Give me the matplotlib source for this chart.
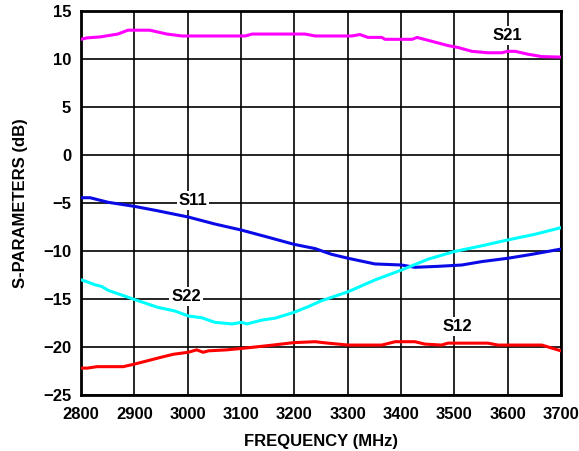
import matplotlib
matplotlib.use("Agg")
import matplotlib.pyplot as plt

plt.rcParams['font.family'] = ['Liberation Sans', 'DejaVu Sans']
plt.rcParams['font.weight'] = 'bold'

# S21 (gain)
s21_f = [2800, 2811, 2836, 2869, 2888, 2929, 2961, 2989, 3050, 3108, 3121, 3180, 3220, 3239,
         3308, 3323, 3338, 3364, 3370, 3421, 3430, 3454, 3488, 3507, 3533, 3563, 3589, 3600,
         3614, 3638, 3664, 3700]
s21_db = [12.05, 12.2, 12.3, 12.6, 13.0, 13.0, 12.6, 12.4, 12.4, 12.4, 12.6, 12.6, 12.6, 12.4,
          12.4, 12.55, 12.25, 12.25, 12.05, 12.05, 12.25, 11.9, 11.4, 11.2, 10.8, 10.65, 10.65, 10.8,
          10.8, 10.5, 10.25, 10.2]

# S11 (input return loss)
s11_f = [2800, 2817, 2851, 2899, 2939, 3001, 3051, 3100, 3151, 3199, 3239, 3270, 3301, 3351,
         3401, 3426, 3469, 3514, 3552, 3600, 3645, 3700]
s11_db = [-4.45, -4.45, -4.93, -5.34, -5.76, -6.46, -7.19, -7.81, -8.57, -9.3, -9.75, -10.35,
          -10.76, -11.35, -11.46, -11.7, -11.6, -11.46, -11.1, -10.76, -10.35, -9.8]

# S22 (output return loss)
s22_f = [2800, 2811, 2825, 2839, 2851, 2899, 2944, 2976, 3001, 3026, 3051, 3083, 3101, 3111,
         3139, 3164, 3199, 3226, 3250, 3301, 3351, 3401, 3451, 3499, 3552, 3600, 3651, 3700]
s22_db = [-13.0, -13.2, -13.5, -13.7, -14.1, -15.03, -15.87, -16.25, -16.77, -16.95, -17.43,
          -17.6, -17.43, -17.6, -17.2, -17.0, -16.4, -15.8, -15.2, -14.24, -13.02, -11.98,
          -10.85, -10.07, -9.45, -8.85, -8.26, -7.57]

# S12 (reverse isolation)
s12_f = [2800, 2812, 2830, 2879, 2899, 2923, 2948, 2973, 3001, 3017, 3029, 3039, 3073, 3101,
         3132, 3160, 3198, 3239, 3263, 3301, 3364, 3389, 3426, 3445, 3476, 3488, 3563, 3582,
         3664, 3700]
s12_db = [-22.2, -22.2, -22.05, -22.05, -21.8, -21.46, -21.1, -20.76, -20.55, -20.3, -20.55,
          -20.4, -20.3, -20.15, -19.97, -19.8, -19.55, -19.45, -19.6, -19.8, -19.8, -19.45,
          -19.45, -19.7, -19.8, -19.6, -19.6, -19.8, -19.8, -20.4]

fig = plt.figure(figsize=(5.79, 4.51), dpi=100)
ax = fig.add_axes([0.1399, 0.1242, 0.8290, 0.8514])

ax.plot(s21_f, s21_db, color='#FF00FF', lw=2.2, zorder=3)
ax.plot(s11_f, s11_db, color='#0A0AE6', lw=2.2, zorder=3)
ax.plot(s22_f, s22_db, color='#00FFFF', lw=2.2, zorder=3)
ax.plot(s12_f, s12_db, color='#FF0000', lw=2.2, zorder=3)

lbl = dict(fontsize=12, fontweight='bold', ha='center', va='center', zorder=4,
           bbox=dict(facecolor='white', edgecolor='none', pad=1.5))
ax.text(3600, 12.5, 'S21', **lbl)
ax.text(3010, -4.75, 'S11', **lbl)
ax.text(2997, -14.75, 'S22', **lbl)
ax.text(3505, -17.9, 'S12', **lbl)

ax.set_xlim(2800, 3700)
ax.set_ylim(-25, 15)
ax.set_xticks(range(2800, 3701, 100))
ax.set_yticks(range(-25, 16, 5))
ax.grid(True, color='black', lw=1.2)
ax.set_axisbelow(True)
for s in ax.spines.values():
    s.set_linewidth(2)
ax.tick_params(length=0, labelsize=12, pad=7)
ax.tick_params(axis='x', pad=9)
for t in ax.get_xticklabels() + ax.get_yticklabels():
    t.set_fontweight('bold')

ax.set_xlabel('FREQUENCY (MHz)', fontsize=12, fontweight='bold', labelpad=8)
ax.set_ylabel('S-PARAMETERS (dB)', fontsize=12, fontweight='bold', labelpad=11)

fig.savefig('out.png', dpi=100)
